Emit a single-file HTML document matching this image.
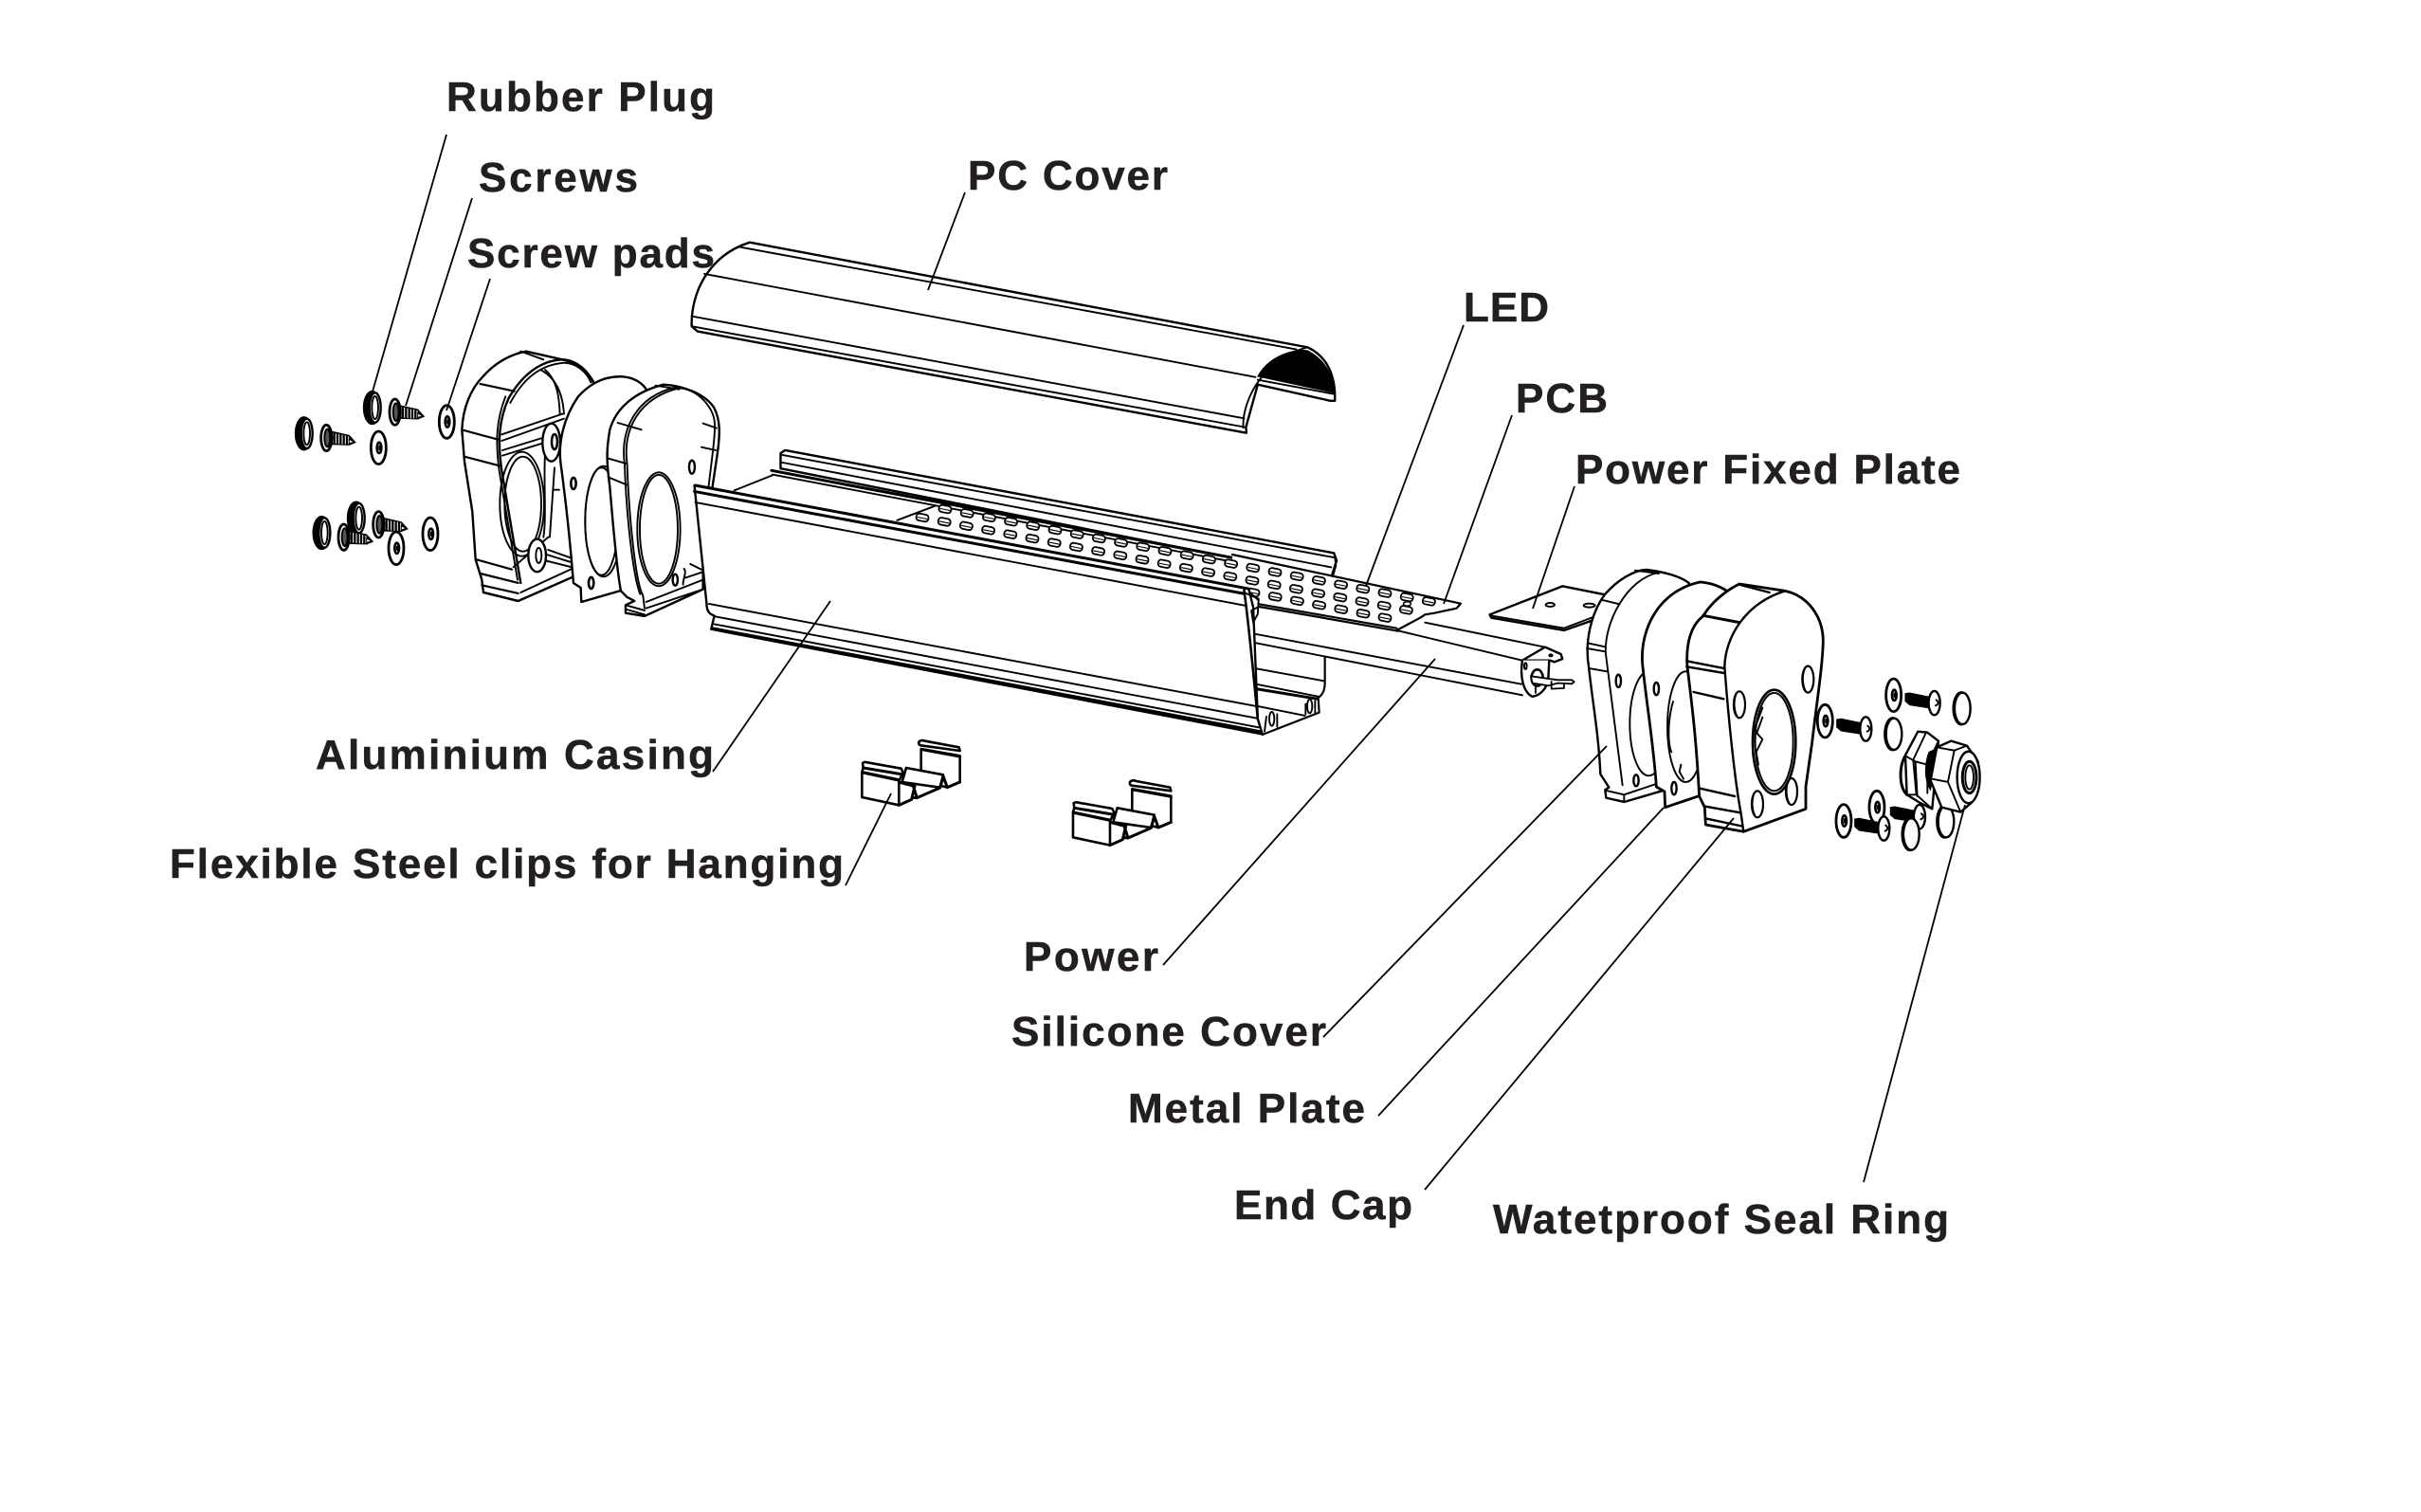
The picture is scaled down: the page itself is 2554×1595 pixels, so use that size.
<!DOCTYPE html>
<html><head><meta charset="utf-8"><title>Exploded diagram</title>
<style>
html,body{margin:0;padding:0;background:#fff}
svg{display:block}
svg *{vector-effect:non-scaling-stroke}
.p{fill:#fff;stroke:#000;stroke-width:2.4;stroke-linejoin:round}
.w{fill:#fff;stroke:none}
.l{fill:none;stroke:#000;stroke-width:1.9;stroke-linejoin:round;stroke-linecap:round}
.t{fill:none;stroke:#000;stroke-width:3;stroke-linecap:round;stroke-linejoin:round}
.f{fill:#000;stroke:#000;stroke-width:1}
.ld{fill:none;stroke:#000;stroke-width:1.8}
text{font-family:"Liberation Sans",sans-serif;font-weight:700;font-size:44px;fill:#231f20;stroke:#231f20;stroke-width:.5}
</style></head><body>
<svg xmlns="http://www.w3.org/2000/svg" width="2554" height="1595" viewBox="0 0 2554 1595">
<rect width="2554" height="1595" fill="#fff"/>
<defs>
<g id="plug"><ellipse rx="28" ry="53" class="f"/><ellipse cx="9" cy="0" rx="18" ry="47" class="p"/><ellipse cx="9" cy="0" rx="10" ry="36" class="l"/></g>
<g id="washer"><ellipse rx="24" ry="52" fill="#fff" stroke="#000" stroke-width="2.8"/><ellipse cx="2" rx="7" ry="17" fill="#fff" stroke="#000" stroke-width="2.6"/><ellipse cx="3" rx="2" ry="7" class="f"/></g>
<g id="screw">
<path d="M10,-22L72,-8L92,14L72,22L10,20Z" class="f"/>
<path d="M20,-16V16M30,-14V18M40,-12V19M50,-10V20M60,-8V20M70,-5V19" fill="none" stroke="#fff" stroke-width="1"/>
<path d="M72,4L88,13L72,17Z" fill="#fff" stroke="#000" stroke-width="1"/>
<ellipse rx="17" ry="41" fill="#fff" stroke="#000" stroke-width="2.8"/><ellipse cx="3" rx="9" ry="28" fill="#555" stroke="#000" stroke-width="2"/>
</g>
<g id="bolt"><path d="M-92,-30L-78,-32L0,-16L0,18L-78,6L-92,-6Z" class="f"/><ellipse rx="18" ry="38" class="p"/><path d="M6,-10C14,-4 14,4 4,8" class="l"/></g>
<g id="seal"><ellipse rx="27" ry="53" class="f"/><ellipse cx="4" rx="25" ry="50" class="p"/></g>
<g id="dot"><rect x="-6.5" y="-3.7" width="13" height="7.4" rx="3.2" transform="rotate(11)" fill="#fff" stroke="#000" stroke-width="1.8"/><path d="M-5,-.5L5,1.5" class="l" style="stroke-width:1.1"/></g>
<g id="d5"><use href="#dot"/><use href="#dot" x="23.2" y="4.43"/><use href="#dot" x="46.4" y="8.86"/><use href="#dot" x="69.6" y="13.29"/><use href="#dot" x="92.8" y="17.72"/></g>
<g id="d20"><use href="#d5"/><use href="#d5" x="116" y="22.15"/><use href="#d5" x="232" y="44.3"/><use href="#d5" x="348" y="66.45"/></g>
<g id="clip">
<path d="M275,90L398,112V195L358,212L275,190Z" class="p" style="stroke-width:2.6"/>
<path d="M268,68Q275,60 288,65L395,85L398,96L282,80Q265,80 268,68Z" class="p" style="stroke-width:2.6"/>
<path d="M278,92L398,114" class="t"/>
<path d="M228,150L345,172L335,212L215,195Z" class="p" style="stroke-width:2.6"/>
<path d="M345,176L358,212L398,195M335,212L345,180" class="t"/>
<path d="M205,195L250,207L262,245L335,213M205,268L245,250L255,208M262,245L250,244" class="t"/>
<path d="M88,165L205,190L205,268L88,243Z" class="p" style="stroke-width:2.6"/>
<path d="M90,135Q95,130 105,133L212,152L218,165L207,188L88,163L92,150Z" class="p" style="stroke-width:2.6"/>
<path d="M92,150L212,170" class="t"/>
</g>
</defs>

<!-- PC cover -->
<g transform="translate(700,230) scale(.4785,.357)">
<path d="M62,320C60,220 100,110 190,72L1420,382C1465,410 1482,470 1480,540L1470,540L1310,492L1284,618L1285,635L75,335Z" class="p"/>
<path d="M1310,468C1335,405 1395,385 1420,392C1460,420 1478,470 1478,516Z" class="f"/>
<path d="M165,85L1395,388M90,165L1305,470M62,290L1280,592M62,320L1282,618M1310,478L1478,520M1278,620C1275,530 1330,410 1420,382" class="l"/>
</g>

<!-- left end cap -->
<g transform="translate(280,340) scale(.3333)">
<use href="#plug" x="122" y="352"/><use href="#plug" x="338" y="270"/><use href="#plug" x="178" y="666"/><use href="#plug" x="287" y="620"/>
<use href="#screw" x="193" y="366"/><use href="#screw" x="410" y="284"/><use href="#screw" x="358" y="640"/><use href="#screw" x="248" y="680"/>
<use href="#washer" x="574" y="315"/><use href="#washer" x="358" y="397"/><use href="#washer" x="522" y="670"/><use href="#washer" x="414" y="715"/>

<path d="M690,855L685,815L665,750L655,600L630,440L622,340C625,270 650,210 690,170C730,125 780,100 825,92L940,118C990,130 1025,160 1042,195L1020,500L975,805L800,882Z" class="p"/>
<path d="M808,825C790,720 770,600 748,470C735,380 738,310 770,240C810,170 870,118 945,118C985,122 1020,150 1040,195" class="l" style="stroke-width:2.4"/>
<path d="M798,815C780,710 760,590 740,470C728,380 730,310 760,235" class="l"/>
<path d="M775,255C810,190 860,135 945,128C985,130 1015,155 1030,190" class="l"/>
<path d="M680,195L788,218M628,342L740,372M630,425L745,455M665,750L780,782M680,795L800,825M685,832L800,858M690,855L798,882" class="l" style="stroke-width:2.2"/>
<path d="M808,92L880,118M960,125L1010,150" class="l"/>
<ellipse cx="812" cy="575" rx="70" ry="165" class="l"/><ellipse cx="815" cy="575" rx="58" ry="150" class="l"/>
<path d="M748,355L940,290M748,375L945,305M750,405L880,365M750,422L880,382M870,150C910,170 940,210 945,290M885,150C925,185 930,240 932,292M885,420C880,500 890,620 880,680M915,460L900,680M910,530L930,530M890,735L970,760M890,755L970,775M895,720L965,745M808,855L970,780M785,775L895,680" class="l"/>
<ellipse cx="905" cy="380" rx="28" ry="60" class="p"/><ellipse cx="915" cy="378" rx="9" ry="24" class="l" style="stroke-width:2.6"/>
<ellipse cx="860" cy="738" rx="28" ry="52" class="p"/><ellipse cx="865" cy="738" rx="9" ry="24" class="l"/>

<!-- metal plate -->
<path d="M1000,885L998,840L975,825C965,700 950,560 935,450C925,380 945,300 990,235C1040,180 1090,170 1130,172C1170,175 1195,195 1205,212L1300,600L1150,842Z" class="p"/>
<ellipse cx="1070" cy="630" rx="58" ry="175" class="l"/><ellipse cx="1064" cy="630" rx="52" ry="170" class="l"/>
<ellipse cx="975" cy="510" rx="8" ry="18" class="l" style="stroke-width:2.6"/><ellipse cx="1031" cy="825" rx="8" ry="18" class="l" style="stroke-width:2.6"/>

<!-- silicone -->
<path d="M1140,920L1140,895L1168,882L1145,870L1125,850C1115,800 1105,700 1090,520C1078,430 1080,400 1090,340C1110,270 1170,220 1260,197C1320,200 1390,225 1420,270C1440,310 1440,350 1430,420L1415,520L1385,790L1385,845L1200,930Z" class="p"/>
<path d="M1200,905L1195,865C1170,820 1150,600 1145,450C1130,340 1180,240 1310,208C1370,213 1420,270 1422,320C1425,380 1400,500 1385,700" class="l"/>
<path d="M1186,860C1162,800 1142,600 1137,450C1122,340 1172,235 1300,205" class="l"/>
<ellipse cx="1245" cy="655" rx="68" ry="180" class="l"/><ellipse cx="1245" cy="655" rx="60" ry="172" class="l"/>
<ellipse cx="1350" cy="458" rx="9" ry="21" class="l" style="stroke-width:2.4"/><ellipse cx="1297" cy="815" rx="8" ry="18" class="l" style="stroke-width:2.4"/>
<path d="M1115,318L1190,340M1082,430L1145,448M1085,490L1145,515M1235,200L1310,212M1385,320L1428,335M1380,395L1425,405M1140,895L1200,912M1140,908L1200,925M1205,885L1385,815M1205,905L1385,845M1325,780C1335,790 1320,815 1322,830M1345,765L1385,785M1325,810L1385,790" class="l"/>
</g>

<!-- casing back, PCB, power -->
<g transform="translate(700,230) scale(.4785,.357)">
<path d="M258,740L258,695L268,686L1478,990L1484,1012L1472,1062Z" class="p"/>
<path d="M262,700L1478,1003M260,722L1472,1032" class="l"/>
<path d="M150,810L240,758L1480,1070L1500,1300L600,1000L300,900Z" fill="#fff"/>
<path d="M156,805L240,760M515,893L600,850" class="l"/>
<path d="M238,746L1468,1058" class="t"/><path d="M240,758L1468,1070" class="l"/>
</g>
<g transform="translate(1300,500) scale(.3333)">
<path d="M60,505L75,735L90,825L275,755L295,680V585L920,695L950,705L1000,680V640L1045,590V575L990,548L600,470L0,370Z" class="w"/>
<path d="M0,255L723,410L710,425L640,440L610,445L595,455L520,495L0,392Z" class="w"/>
<path d="M0,255L723,410L710,425L640,440L610,445L595,455L520,495" class="l" style="stroke-width:2.2"/>
<path d="M85,412L520,488M85,420L525,497" class="l" style="stroke-width:2.2"/>
<path d="M325,265L328,290L318,325" class="l"/>
<path d="M610,470L990,548M520,495L918,590M65,505L915,665M65,533L918,700" class="l"/>
<path d="M918,590L990,548L1040,570L1045,585L1020,595L1005,590L918,590" class="p"/>
<path d="M918,590C910,640 920,690 950,705C975,700 995,680 1000,650L1003,590" class="p"/>
<ellipse cx="965" cy="645" rx="18" ry="26" class="l" style="stroke-width:2.6"/><ellipse cx="928" cy="608" rx="4" ry="10" class="l"/><ellipse cx="1008" cy="574" rx="5" ry="3" class="l"/>
<path d="M945,640L1030,652L1075,652L1082,658L1075,664L1030,662L1000,670L950,662ZM1010,655V680L1050,678V660M960,670V695" class="p" style="stroke-width:1.8"/>
<path d="M70,615L290,655M75,665L275,705M80,735L230,765" class="l"/><path d="M75,680L270,712" class="t"/>
<path d="M293,580V660C293,685 285,700 272,708L275,755L95,825" class="l" style="stroke-width:2.2"/>
<ellipse cx="125" cy="775" rx="8" ry="22" class="l"/><ellipse cx="245" cy="735" rx="8" ry="22" class="l"/><path d="M108,768L102,815M142,760V800M232,728V760M262,718V755" class="l"/>
</g>
<g><use href="#d20" x="997" y="537"/><use href="#dot" x="1461" y="625.6"/><use href="#dot" x="1484.2" y="630"/><use href="#dot" x="1507.4" y="634.4"/>
<use href="#d20" x="973" y="546"/><use href="#dot" x="1437" y="634.6"/><use href="#dot" x="1460.2" y="639"/><use href="#dot" x="1483.4" y="643.4"/>
<ellipse cx="1484.5" cy="637" rx="4" ry="2.2" class="l" style="stroke-width:1.5"/>
<use href="#d5" x="1322" y="625"/><use href="#dot" x="1438" y="647.2"/><use href="#dot" x="1461" y="651.6"/></g>

<!-- casing front -->
<g transform="translate(700,230) scale(.4785,.357)">
<path d="M68,790L1290,1095L1300,1150L1310,1480L1320,1525L105,1215L112,1175C100,1170 95,1160 95,1140Z" class="p"/>
<path d="M70,790L1288,1095" class="t"/><path d="M68,808L1280,1110" class="t"/>
<path d="M70,840L1282,1145M100,1140L1305,1442M112,1177L1308,1478" class="l"/>
<path d="M107,1212L1318,1518" class="t"/><path d="M112,1200L1312,1505" class="l"/>
<path d="M1280,1100C1290,1200 1303,1380 1310,1480" class="l" style="stroke-width:2.6"/>
<path d="M1282,1108L1312,1125L1310,1170L1300,1195L1296,1160L1310,1150M1296,1110L1312,1130" class="l"/>
</g>

<!-- power fixed plate -->
<g transform="translate(1300,500) scale(.3333)">
<path d="M815,445L1045,355L1210,388L1150,460L1050,495L820,455Z" class="p"/>
<path d="M817,448L1050,488L1150,450" class="l"/>
<ellipse cx="1006" cy="414" rx="14" ry="6" class="l"/><ellipse cx="1130" cy="416" rx="18" ry="6" class="l"/>
</g>

<!-- right end cap and hardware -->
<g transform="translate(1650,590) scale(.3333)">
<path d="M190,768L133,755L130,730L142,722L115,680C110,560 90,450 78,340C65,260 85,170 130,110C170,65 220,35 260,33C320,40 370,55 395,75L420,500L320,730Z" class="p"/>
<path d="M185,715C170,600 150,450 132,300C125,200 200,60 300,42" class="l"/>
<path d="M74,265L130,277M72,282L130,292M78,345L135,355M118,128L175,142M225,35L300,45M133,732L190,745M190,745V768M190,745L300,708" class="l"/>
<ellipse cx="268" cy="520" rx="60" ry="165" class="l"/>
<ellipse cx="172" cy="385" rx="8" ry="20" class="l" style="stroke-width:2.4"/><ellipse cx="228" cy="700" rx="8" ry="18" class="l" style="stroke-width:2.4"/>

<path d="M320,785L318,735L292,720C285,600 260,450 248,330C240,220 300,100 430,72C470,75 500,90 515,100L560,500L430,748Z" class="p" style="stroke-width:2.8"/>
<ellipse cx="385" cy="530" rx="58" ry="175" class="l"/>
<path d="M345,450C325,520 330,590 340,610M370,650L365,672L378,695" class="l"/>
<ellipse cx="292" cy="410" rx="8" ry="20" class="l" style="stroke-width:2.4"/><ellipse cx="348" cy="725" rx="8" ry="20" class="l" style="stroke-width:2.4"/>

<path d="M448,840L445,785L428,750C420,600 410,500 390,340C385,270 400,210 440,180C470,130 520,95 555,78L700,100C770,115 820,180 820,260C818,340 800,450 785,580L765,720V790L568,862Z" class="p" style="stroke-width:2.8"/>
<path d="M568,862L560,805C540,700 520,500 508,340C510,250 570,140 700,100" class="l" style="stroke-width:2.4"/>
<path d="M440,178L555,200" class="t"/>
<path d="M388,322L505,345M388,340L505,360M410,420L505,442M430,725L540,750M447,782L558,802M447,820L565,845M555,80L650,105" class="l" style="stroke-width:2.4"/>
<ellipse cx="772" cy="380" rx="18" ry="42" class="l" style="stroke-width:2.2"/><path d="M762,345C752,370 755,400 765,418" class="l"/>
<ellipse cx="555" cy="460" rx="18" ry="42" class="l" style="stroke-width:2.2"/><path d="M545,425C535,450 538,480 548,498" class="l"/>
<ellipse cx="720" cy="735" rx="18" ry="42" class="l" style="stroke-width:2.2"/><path d="M710,700C700,725 703,755 713,773" class="l"/>
<ellipse cx="612" cy="775" rx="18" ry="42" class="l" style="stroke-width:2.2"/><path d="M602,740C592,765 595,795 605,813" class="l"/>
<ellipse cx="665" cy="578" rx="68" ry="165" class="l" style="stroke-width:2.6"/><ellipse cx="665" cy="578" rx="60" ry="155" class="l"/>
<path d="M628,470L600,545L598,620L612,680M628,500L610,550L628,570L608,610L615,650" class="l"/>

<use href="#washer" x="826" y="512"/><use href="#washer" x="1043" y="430"/><use href="#washer" x="885" y="828"/><use href="#washer" x="990" y="785"/>
<use href="#bolt" x="1172" y="455"/><use href="#bolt" x="955" y="537"/><use href="#bolt" x="1012" y="852"/>
<use href="#seal" x="1257" y="472"/><use href="#seal" x="1040" y="553"/><use href="#seal" x="1205" y="830"/>
<use href="#bolt" x="1125" y="815"/><use href="#seal" x="1095" y="870"/>

<!-- gland -->
<path d="M1078,625C1060,660 1060,720 1085,745" class="t"/>
<path d="M1080,620L1120,545L1150,548L1185,575L1165,790L1125,770L1085,745Z" class="p"/>
<path d="M1105,635L1145,550M1080,622L1112,640L1150,650L1185,575M1105,635L1115,745L1165,790M1150,650L1150,740M1112,640L1118,750M1085,745L1115,745" class="l"/>
<path d="M1155,610C1140,650 1140,700 1160,730L1165,700L1178,600Z" class="f"/>
<path d="M1180,595L1225,575L1275,590L1310,640L1315,700L1290,770L1255,800L1195,785L1160,700Z" class="p"/>
<path d="M1180,595L1235,605L1275,590M1235,605L1215,705L1255,800M1165,695L1215,705" class="l"/>
<ellipse cx="1280" cy="690" rx="36" ry="82" class="p"/>
<ellipse cx="1283" cy="690" rx="22" ry="50" fill="#fff" stroke="#000" stroke-width="3"/><ellipse cx="1283" cy="690" rx="13" ry="38" class="l"/>
</g>

<!-- clips -->
<g transform="translate(880,760) scale(.3333)"><use href="#clip"/><use href="#clip" x="668" y="127"/></g>

<!-- leaders -->
<g class="ld">
<path d="M471,142L393,413"/><path d="M498,209L428,428"/><path d="M517,294L471,433"/>
<path d="M1018,203L979,306"/><path d="M1544,343L1441,618"/><path d="M1595,438L1523,637"/>
<path d="M1661,513L1617,642"/><path d="M752,814L876,634"/><path d="M892,934L940,837"/>
<path d="M1227,1018L1514,695"/><path d="M1396,1094L1695,787"/><path d="M1454,1177L1755,852"/>
<path d="M1503,1255L1829,863"/><path d="M1966,1247L2073,849"/>
</g>

<!-- labels -->
<text x="471" y="117" textLength="283">Rubber Plug</text>
<text x="505" y="202" textLength="168">Screws</text>
<text x="493" y="282" textLength="261">Screw pads</text>
<text x="1021" y="200" textLength="211">PC Cover</text>
<text x="1544" y="339" textLength="90">LED</text>
<text x="1599" y="435" textLength="97">PCB</text>
<text x="1662" y="510" textLength="406">Power Fixed Plate</text>
<text x="333" y="811" textLength="420">Aluminium Casing</text>
<text x="179" y="926" textLength="711">Flexible Steel clips for Hanging</text>
<text x="1080" y="1024" textLength="142">Power</text>
<text x="1067" y="1103" textLength="332">Silicone Cover</text>
<text x="1190" y="1184" textLength="250">Metal Plate</text>
<text x="1302" y="1286" textLength="188">End Cap</text>
<text x="1575" y="1301" textLength="481">Watetproof Seal Ring</text>
</svg>
</body></html>
